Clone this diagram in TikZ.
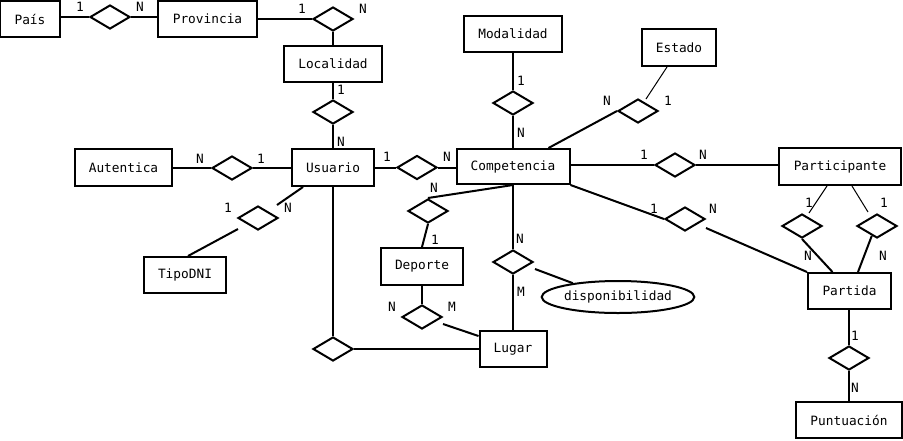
\documentclass[tikz,border=0pt]{standalone}
\usepackage{fontspec}
\setmonofont{DejaVu Sans Mono}
\usetikzlibrary{shapes.geometric}
\begin{document}
\begin{tikzpicture}[x=1pt,y=-1pt,
  txt/.style={font=\ttfamily\fontsize{12.8}{15}\selectfont},
  ent/.style={txt, draw, line width=2pt, minimum height=36pt, inner sep=0pt},
  rel/.style={draw, diamond, line width=2pt, minimum width=40pt, minimum height=24pt, inner sep=0pt},
  attr/.style={txt, draw, ellipse, line width=2pt, inner sep=0pt},
  card/.style={txt, inner sep=0pt},
  link/.style={line width=2pt},
  thinlink/.style={line width=1pt}]
\useasboundingbox (0,0) rectangle (903,440);

% entities
\node[ent, minimum width=60pt] (pais) at (30,19) {País};
\node[ent, minimum width=99pt] (provincia) at (207.5,19) {Provincia};
\node[ent, minimum width=98pt] (localidad) at (333,64) {Localidad};
\node[ent, minimum width=82pt, minimum height=37pt] (usuario) at (333,167.5) {Usuario};
\node[ent, minimum width=97pt, minimum height=37pt] (autentica) at (123.5,167.5) {Autentica};
\node[ent, minimum width=82pt] (tipodni) at (185,275) {TipoDNI};
\node[ent, minimum width=98pt] (modalidad) at (513,34) {Modalidad};
\node[ent, minimum width=74pt, minimum height=37pt] (estado) at (679,47.5) {Estado};
\node[ent, minimum width=113pt, minimum height=35pt] (competencia) at (513,166.5) {Competencia};
\node[ent, minimum width=122pt, minimum height=37pt] (participante) at (840,166.5) {Participante};
\node[ent, minimum width=83pt] (partida) at (849.5,291) {Partida};
\node[ent, minimum width=106pt] (puntuacion) at (849,420) {Puntuación};
\node[ent, minimum width=82pt, minimum height=37pt] (deporte) at (422,266.5) {Deporte};
\node[ent, minimum width=67pt] (lugar) at (513,349) {Lugar};
\node[attr, minimum width=146pt, minimum height=32pt] (disp) at (618,297) {disponibilidad};

% relationships
\node[rel] (r1) at (110,17) {};
\node[rel] (r2) at (333,19) {};
\node[rel] (r3) at (333,112) {};
\node[rel] (r4) at (232,168) {};
\node[rel] (r5) at (258,218) {};
\node[rel] (r6) at (417,167.5) {};
\node[rel] (r7) at (513,103) {};
\node[rel] (r8) at (638,111) {};
\node[rel] (r9) at (675,165) {};
\node[rel] (r10) at (685,219) {};
\node[rel] (r11) at (802,226) {};
\node[rel] (r12) at (877,226) {};
\node[rel] (r13) at (849,358) {};
\node[rel] (r14) at (428,211) {};
\node[rel] (r15) at (422,317) {};
\node[rel] (r16) at (513,262) {};
\node[rel] (r17) at (333,349) {};

% loose line ends
\coordinate (t1) at (277,205);
\coordinate (t2) at (238,229);
\coordinate (e1) at (646,99);
\coordinate (p1) at (706,228);
\coordinate (q1) at (809,213);
\coordinate (q2) at (868,212);
\coordinate (g1) at (443,324);
\coordinate (h1) at (535,269);

% connectors
\draw[link] (pais.east |- r1) -- (r1.west) (r1.east) -- (r1 -| provincia.west);
\draw[link] (provincia.east |- r2) -- (r2.west);
\draw[link] (r2.south) -- (localidad.north) (localidad.south) -- (r3.north) (r3.south) -- (usuario.north);
\draw[link] (autentica.east |- r4) -- (r4.west) (r4.east) -- (r4 -| usuario.west);
\draw[link] ([xshift=12pt]usuario.south west) -- (t1);
\draw[link] (t2) -- ([xshift=3pt]tipodni.north);
\draw[link] (usuario.east |- r6) -- (r6.west) (r6.east) -- (r6 -| competencia.west);
\draw[link] (modalidad.south) -- (r7.north) (r7.south) -- (competencia.north);
\draw[thinlink] ([xshift=-12pt]estado.south) -- (e1);
\draw[link] (r8.west) -- ([xshift=-22pt]competencia.north east);
\draw[link] (competencia.east |- r9) -- (r9.west) (r9.east) -- (r9 -| participante.west);
\draw[link] (competencia.south east) -- (r10.west);
\draw[link] (p1) -- (partida.north west);
\draw[thinlink] ([xshift=-13pt]participante.south) -- (q1);
\draw[thinlink] ([xshift=12pt]participante.south) -- (q2);
\draw[link] (r11.south) -- ([xshift=-17pt]partida.north);
\draw[link] (r12.242) -- ([xshift=8.5pt]partida.north);
\draw[link] (partida.south -| r13) -- (r13.north) (r13.south) -- (puntuacion.north);
\draw[link] (competencia.south) -- (r14.north) (r14.south) -- (deporte.north);
\draw[link] (deporte.south) -- (r15.north);
\draw[link] (g1) -- ([yshift=-6pt]lugar.north west);
\draw[link] (competencia.south) -- (r16.north) (r16.south) -- (lugar.north);
\draw[link] (h1) -- (disp.163);
\draw[link] (usuario.south) -- (r17.north) (r17.east) -- (r17 -| lugar.west);

% cardinalities
\node[card] (c1) at (80,7) {1};
\node[card] (c2) at (140,7) {N};
\node[card] (c3) at (302,9) {1};
\node[card] (c4) at (363,9) {N};
\node[card] (c5) at (341,90) {1};
\node[card] (c6) at (341,142) {N};
\node[card] (c7) at (200,159) {N};
\node[card] (c8) at (261,159) {1};
\node[card] (c9) at (228,208) {1};
\node[card] (c10) at (288,208) {N};
\node[card] (c11) at (387,157) {1};
\node[card] (c12) at (447,157) {N};
\node[card] (c13) at (521,81) {1};
\node[card] (c14) at (521,133) {N};
\node[card] (c15) at (607,101) {N};
\node[card] (c16) at (668,101) {1};
\node[card] (c17) at (644,155) {1};
\node[card] (c18) at (703,155) {N};
\node[card] (c19) at (654,209) {1};
\node[card] (c20) at (713,209) {N};
\node[card] (c21) at (809,203) {1};
\node[card] (c22) at (808,256) {N};
\node[card] (c23) at (884,203) {1};
\node[card] (c24) at (883,256) {N};
\node[card] (c25) at (855,336) {1};
\node[card] (c26) at (855,388) {N};
\node[card] (c27) at (434,188) {N};
\node[card] (c28) at (435,240) {1};
\node[card] (c29) at (392,307) {N};
\node[card] (c30) at (452,307) {M};
\node[card] (c31) at (520,239) {N};
\node[card] (c32) at (521,292) {M};
\end{tikzpicture}
\end{document}
